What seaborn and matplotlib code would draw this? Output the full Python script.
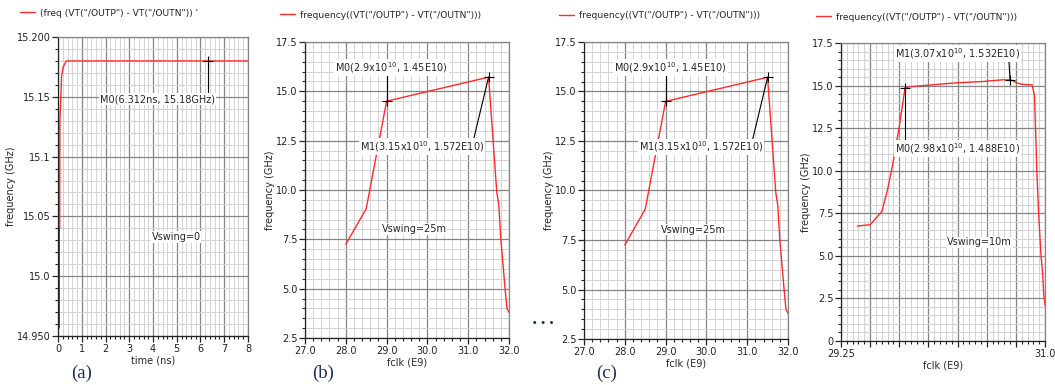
import numpy as np
import pandas as pd
import matplotlib
matplotlib.use("Agg")
import matplotlib.pyplot as plt
import seaborn as sns
from matplotlib.ticker import MultipleLocator, FixedLocator, FixedFormatter

# ---------------- data ----------------
# (a) transient frequency, Vswing=0
a_time = [0.03, 0.03, 0.07, 0.08, 0.12, 0.15, 0.22, 0.35, 8.0]
a_freq = [14.957, 15.04, 15.04, 15.13, 15.15, 15.167, 15.175, 15.18, 15.18]
a_marker = (6.312, 15.18)

# (b)/(c) frequency vs fclk, Vswing=25m
b_fclk = [28.0, 28.5, 29.0, 31.5, 31.7, 31.75, 31.8, 31.9, 31.95, 32.0]
b_freq = [7.25, 9.05, 14.5, 15.72, 9.9, 9.25, 7.5, 5.1, 4.0, 3.8]
b_m0 = (29.0, 14.5)
b_m1 = (31.5, 15.72)

# (d) frequency vs fclk, Vswing=10m
d_fclk = [29.39, 29.5, 29.6, 29.65, 29.7, 29.75, 29.8, 29.85, 29.96, 30.1, 30.24,
          30.35, 30.47, 30.55, 30.64, 30.71, 30.76, 30.81, 30.89, 30.91, 30.93,
          30.945, 30.965, 30.98, 30.99, 31.0]
d_freq = [6.75, 6.83, 7.6, 8.9, 10.6, 12.6, 14.88, 14.94, 15.0, 15.08, 15.16,
          15.2, 15.24, 15.29, 15.34, 15.33, 15.15, 15.07, 15.04, 14.4, 10.0,
          7.5, 5.1, 3.9, 2.7, 2.1]
d_m0 = (29.8, 14.88)
d_m1 = (30.7, 15.33)

a_yticks = [14.95, 15.0, 15.05, 15.1, 15.15, 15.2]
a_yticklabels = ["14.950", "15.0", "15.05", "15.1", "15.15", "15.200"]
a_xticks = [0, 1, 2, 3, 4, 5, 6, 7, 8]
bc_xticks = [27.0, 28.0, 29.0, 30.0, 31.0, 32.0]
bc_xticklabels = ["27.0", "28.0", "29.0", "30.0", "31.0", "32.0"]
bc_yticks = [2.5, 5.0, 7.5, 10.0, 12.5, 15.0, 17.5]
bc_yticklabels = ["2.5", "5.0", "7.5", "10.0", "12.5", "15.0", "17.5"]
d_xticks = [29.25, 29.5, 29.75, 30.0, 30.25, 30.5, 30.75, 31.0]
d_xticklabels = ["29.25", "", "", "", "", "", "", "31.0"]
d_yticks = [0, 2.5, 5.0, 7.5, 10.0, 12.5, 15.0, 17.5]
d_yticklabels = ["0", "2.5", "5.0", "7.5", "10.0", "12.5", "15.0", "17.5"]

legend_a = "(freq (VT(\"/OUTP\") - VT(\"/OUTN\")) '"
legend_bcd = "frequency((VT(\"/OUTP\") - VT(\"/OUTN\")))"

# ---------------- style ----------------
sns.set_style("white")
plt.rcParams["font.family"] = ["DejaVu Sans"]
plt.rcParams["font.size"] = 7

RED = "#ff2a2a"
MAJ = "#858585"
MIN = "#d3d3d3"
FS = 7

fig = plt.figure(figsize=(10.55, 3.85), dpi=100)

def px_axes(left, right, top, bottom):
    W, H = 1055.0, 385.0
    return fig.add_axes([left / W, 1 - bottom / H, (right - left) / W, (bottom - top) / H])

axA = px_axes(58, 248, 37, 336)
axB = px_axes(305, 509, 42, 338)
axC = px_axes(584, 788, 42, 339)
axD = px_axes(841, 1045, 43, 341)

def style(ax, xticks, xlabels, yticks, ylabels, xlim, ylim, xminor, yminor, xlabel):
    ax.set_xlim(*xlim)
    ax.set_ylim(*ylim)
    ax.xaxis.set_major_locator(FixedLocator(xticks))
    ax.xaxis.set_major_formatter(FixedFormatter(xlabels))
    ax.yaxis.set_major_locator(FixedLocator(yticks))
    ax.yaxis.set_major_formatter(FixedFormatter(ylabels))
    ax.xaxis.set_minor_locator(MultipleLocator(xminor))
    ax.yaxis.set_minor_locator(MultipleLocator(yminor))
    ax.grid(which="major", color=MAJ, lw=0.9)
    ax.grid(which="minor", color=MIN, lw=0.7)
    ax.set_axisbelow(True)
    ax.tick_params(which="both", direction="out", left=True, bottom=True,
                   top=False, right=False, labelsize=FS, colors="#222222", pad=1.5)
    ax.tick_params(which="major", length=4, width=0.9)
    ax.tick_params(which="minor", length=2.5, width=0.8)
    for s in ["left", "bottom"]:
        ax.spines[s].set_color("#222222")
        ax.spines[s].set_linewidth(0.9)
    for s in ["top", "right"]:
        ax.spines[s].set_color(MAJ)
        ax.spines[s].set_linewidth(0.9)
    ax.set_xlabel(xlabel, fontsize=FS, labelpad=1.5)
    ax.set_ylabel("frequency (GHz)", fontsize=FS, labelpad=0.5)

BOX = dict(facecolor="white", edgecolor="none", pad=0.6)

# ---- (a)
dfa = pd.DataFrame({"t": a_time, "f": a_freq})
sns.lineplot(data=dfa, x="t", y="f", ax=axA, color=RED, lw=1.0, sort=False,
             estimator=None, label=legend_a)
axA.plot(a_time[:2], a_freq[:2], color="#c00000", lw=1.2)
style(axA, a_xticks, [str(v) for v in a_xticks], a_yticks, a_yticklabels,
      (0, 8), (14.95, 15.2), 0.2, 0.01, "time (ns)")
axA.plot([a_marker[0], a_marker[0]], [a_marker[1] + 0.003, 15.152], color="black", lw=0.8)
axA.plot(*a_marker, marker="+", color="black", ms=7, mew=0.8)
axA.text(4.2, 15.148, "M0(6.312ns, 15.18GHz)", ha="center", va="center", fontsize=FS, bbox=BOX)
axA.text(4.97, 15.033, "Vswing=0", ha="center", va="center", fontsize=FS, bbox=BOX)

# ---- (b) and (c)
dfb = pd.DataFrame({"fclk": b_fclk, "f": b_freq})
for ax in (axB, axC):
    sns.lineplot(data=dfb, x="fclk", y="f", ax=ax, color=RED, lw=1.0, sort=False,
                 estimator=None, label=legend_bcd)
    style(ax, bc_xticks, bc_xticklabels, bc_yticks, bc_yticklabels,
          (27.0, 32.0), (2.5, 17.5), 0.2, 0.5, "fclk (E9)")
    ax.plot([b_m0[0], b_m0[0]], [b_m0[1], 16.05], color="black", lw=0.8)
    ax.plot(*b_m0, marker="+", color="black", ms=7, mew=0.8)
    ax.plot([b_m1[0], 31.13], [b_m1[1], 12.55], color="black", lw=0.8)
    ax.plot(*b_m1, marker="+", color="black", ms=7, mew=0.8)
    ax.text(29.12, 16.2, r"M0(2.9x10$^{\mathregular{10}}$, 1.45E10)", ha="center", va="center",
            fontsize=FS, bbox=BOX)
    ax.text(29.86, 12.2, r"M1(3.15x10$^{\mathregular{10}}$, 1.572E10)", ha="center", va="center",
            fontsize=FS, bbox=BOX)
    ax.text(29.67, 8.03, "Vswing=25m", ha="center", va="center", fontsize=FS, bbox=BOX)

# ---- (d)
dfd = pd.DataFrame({"fclk": d_fclk, "f": d_freq})
sns.lineplot(data=dfd, x="fclk", y="f", ax=axD, color=RED, lw=1.0, sort=False,
             estimator=None, label=legend_bcd)
style(axD, d_xticks, d_xticklabels, d_yticks, d_yticklabels,
      (29.25, 31.0), (0, 17.5), 0.05, 0.5, "fclk (E9)")
axD.plot([d_m0[0], d_m0[0]], [d_m0[1], 11.6], color="black", lw=0.8)
axD.plot(*d_m0, marker="+", color="black", ms=7, mew=0.8)
axD.plot([30.69, d_m1[0]], [16.55, d_m1[1]], color="black", lw=0.8)
axD.plot(*d_m1, marker="+", color="black", ms=7, mew=0.8)
axD.text(30.25, 11.32, r"M0(2.98x10$^{\mathregular{10}}$, 1.488E10)", ha="center", va="center",
         fontsize=FS, bbox=BOX)
axD.text(30.25, 16.87, r"M1(3.07x10$^{\mathregular{10}}$, 1.532E10)", ha="center", va="center",
         fontsize=FS, bbox=BOX)
axD.text(30.44, 5.79, "Vswing=10m", ha="center", va="center", fontsize=FS, bbox=BOX)

# legends above each axes
leg_pos = {axA: (20, 13), axB: (280, 15), axC: (559, 16), axD: (816, 17)}
for ax, (lx, ly) in leg_pos.items():
    ax.legend(loc="center left", bbox_to_anchor=(lx / 1055, 1 - ly / 385),
              bbox_transform=fig.transFigure, frameon=False, fontsize=6.6,
              handlelength=1.6, handletextpad=0.6, borderpad=0, borderaxespad=0)

# panel letters
NAVY = "#1d2d55"
for lbl, x in (("(a)", 82), ("(b)", 323), ("(c)", 607)):
    fig.text(x / 1055, 1 - 373 / 385, lbl, ha="center", va="center",
             family="Liberation Serif", fontsize=13.5, color=NAVY)
fig.text(543 / 1055, 1 - 324 / 385, "• • •", ha="center", va="center",
         fontsize=6, color=NAVY, fontweight="bold")

fig.savefig("out.png", dpi=100)
